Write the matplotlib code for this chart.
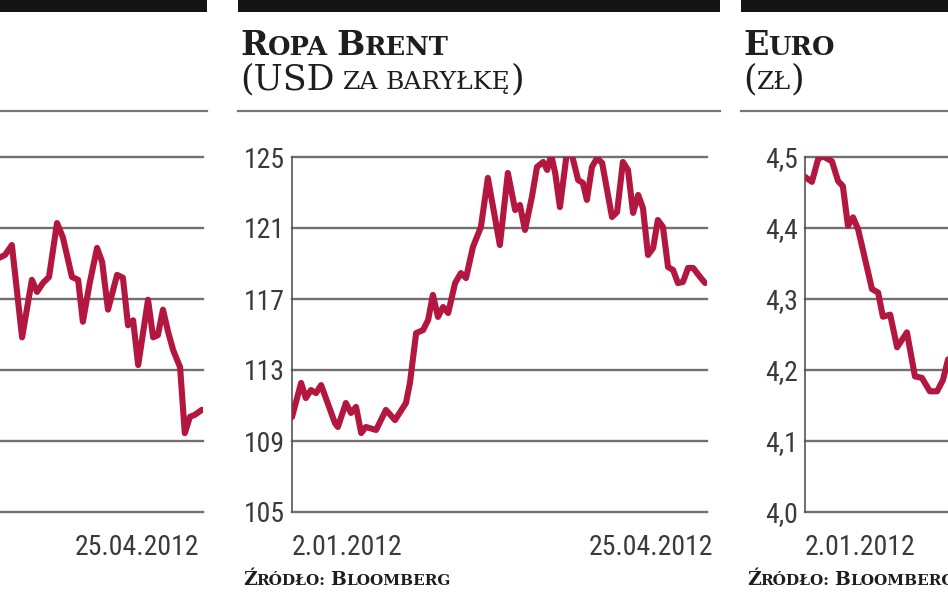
import matplotlib
matplotlib.use('Agg')
import matplotlib.pyplot as plt
from matplotlib import font_manager
from matplotlib.patches import Rectangle
from matplotlib.lines import Line2D

W, H = 948, 593

# dni liczone od 2.01.2012 (25.04.2012 = 114)
lewy_dni = [58.0, 59.6, 61.5, 64.3, 67.0, 68.4, 70.1, 71.7, 73.9, 75.5, 78.0, 79.7, 81.0, 82.9,
            84.9, 86.3, 87.9, 90.4, 92.0, 93.4, 94.8, 96.2, 98.9, 100.3, 101.6, 103.0, 104.4,
            105.8, 107.7, 109.0, 110.4, 111.8, 113.7]
lewy = [3.58, 3.62, 3.76, 2.46, 3.27, 3.10, 3.23, 3.31, 4.07, 3.87, 3.31, 3.27, 2.68, 3.23,
        3.72, 3.52, 2.85, 3.34, 3.30, 2.63, 2.70, 2.07, 2.99, 2.46, 2.49, 2.85, 2.54,
        2.28, 2.04, 1.11, 1.34, 1.37, 1.44]

brent_dni = [0.0, 2.5, 3.8, 5.2, 6.6, 8.0, 9.3, 11.8, 12.6, 14.8, 16.2, 17.6, 19.0, 20.3, 23.1,
             25.8, 28.3, 31.3, 32.4, 34.1, 36.0, 37.4, 38.7, 40.1, 41.5, 42.9, 44.8, 46.4, 47.8,
             49.7, 51.9, 53.8, 57.1, 59.3, 61.3, 62.6, 64.0, 65.9, 67.3, 69.0, 70.1, 71.2, 72.3,
             73.6, 75.5, 76.9, 78.6, 79.9, 81.0, 82.4, 83.8, 85.2, 87.9, 89.3, 90.9, 92.3, 93.7,
             95.1, 96.4, 97.8, 99.2, 100.5, 101.9, 103.3, 104.7, 106.0, 107.4, 108.8, 110.2,
             112.1, 113.5]
brent = [110.35, 112.27, 111.42, 111.87, 111.70, 112.15, 111.42, 110.01, 109.79, 111.14, 110.58,
         110.92, 109.45, 109.79, 109.62, 110.75, 110.18, 111.14, 112.27, 115.08, 115.25, 115.82,
         117.23, 115.99, 116.55, 116.21, 117.90, 118.46, 118.18, 119.93, 121.06, 123.82, 120.04,
         124.10, 122.01, 122.30, 120.89, 122.75, 124.44, 124.72, 124.27, 125.11, 124.10, 122.18,
         125.23, 125.11, 123.70, 123.54, 122.58, 124.44, 124.94, 124.66, 121.62, 121.90, 124.72,
         124.27, 121.85, 122.86, 122.13, 119.48, 119.87, 121.45, 121.06, 118.80, 118.63, 117.90,
         117.96, 118.75, 118.75, 118.24, 117.90]

euro_dni = [0.0, 1.9, 3.6, 4.9, 7.4, 9.1, 10.4, 11.8, 13.2, 14.6, 16.5, 18.4, 20.1, 21.4, 23.4,
            25.3, 28.0, 30.2, 32.1, 34.3, 36.3, 37.9, 39.3]
euro = [4.472, 4.465, 4.497, 4.501, 4.494, 4.466, 4.459, 4.403, 4.415, 4.398, 4.356, 4.314,
        4.309, 4.275, 4.278, 4.232, 4.253, 4.191, 4.189, 4.170, 4.170, 4.186, 4.215]

lewy_ticks = [0, 1, 2, 3, 4, 5]
brent_ticks = [105, 109, 113, 117, 121, 125]
euro_ticks = [4.0, 4.1, 4.2, 4.3, 4.4, 4.5]
euro_labels = ['4,0', '4,1', '4,2', '4,3', '4,4', '4,5']
daty = ['2.01.2012', '25.04.2012']

RED = '#b3173f'
GRID = '#707070'

names = {f.name for f in font_manager.fontManager.ttflist}
narrow = 'DejaVu Sans'
for n in ['Liberation Sans Narrow', 'Roboto Condensed', 'Open Sans Condensed', 'DejaVu Sans Condensed']:
    if n in names:
        narrow = n
        break
serif = 'DejaVu Serif' if 'DejaVu Serif' in names else 'Liberation Serif'

fig = plt.figure(figsize=(W / 100, H / 100), dpi=100)
renderer = fig.canvas.get_renderer()


def fx(x):
    return x / W


def fy(y):
    return 1 - y / H


def sc_text(x, y, parts, weight):
    # kapitaliki skladane z kawalkow
    for txt, size in parts:
        if txt == ' ':
            x += size * 0.32 * 100 / 72
            continue
        t = fig.text(fx(x), fy(y), txt, fontsize=size, fontweight=weight, family=serif,
                     va='baseline', ha='left', color='#1e1e1e')
        x += t.get_window_extent(renderer).width


def panel(x0, ymin, ymax, ticks, labels, dni, vals, first_date, last_date, show_ylab=True):
    ax = fig.add_axes([fx(x0), fy(512), 415 / W, 355 / H])
    ax.set_xlim(0, 114)
    ax.set_ylim(ymin, ymax)
    for v in ticks:
        ax.axhline(v, color=GRID, lw=1.7, zorder=0, clip_on=False)
    ax.plot(dni, vals, color=RED, lw=4.4, solid_joinstyle='round', solid_capstyle='round', zorder=3)
    for s in ['top', 'right', 'bottom']:
        ax.spines[s].set_visible(False)
    ax.spines['left'].set_color('#555555')
    ax.spines['left'].set_linewidth(1.2)
    ax.set_xticks([])
    ax.set_yticks(ticks)
    ax.set_yticklabels(labels)
    ax.tick_params(axis='y', length=0, pad=5, labelsize=20, labelcolor='#3a3a3a',
                   labelleft=show_ylab)
    for lab in ax.get_yticklabels():
        lab.set_family(narrow)
    if first_date:
        ax.annotate(daty[0], xy=(0, 0), xycoords='axes fraction', xytext=(0, -22),
                    textcoords='offset pixels', ha='left', va='top', fontsize=20,
                    color='#3a3a3a', family=narrow)
    if last_date is not None:
        ax.annotate(daty[1], xy=(1, 0), xycoords='axes fraction', xytext=(last_date, -22),
                    textcoords='offset pixels', ha='right', va='top', fontsize=20,
                    color='#3a3a3a', family=narrow)
    ax.patch.set_alpha(0)
    return ax


# belki i linie naglowkow
for a, b in [(0, 207), (238, 720), (741, 948)]:
    fig.add_artist(Rectangle((fx(a), fy(12)), (b - a) / W, 12 / H, color='#141414', lw=0))
    fig.add_artist(Line2D([fx(a), fx(b)], [fy(111), fy(111)], color='#777777', lw=1.6))

panel(-212, 0, 5, lewy_ticks, [str(t) for t in lewy_ticks], lewy_dni, lewy, False, -4, False)
panel(292, 105, 125, brent_ticks, [str(t) for t in brent_ticks], brent_dni, brent, True, 6)
panel(805, 4.0, 4.5, euro_ticks, euro_labels, euro_dni, euro, True, None)

sc_text(240, 55, [('R', 24), ('OPA', 18.5), (' ', 18), ('B', 24), ('RENT', 18.5)], 'bold')
sc_text(240, 89, [('(USD', 25), (' ', 18), ('ZA', 18), (' ', 18), ('BARYŁKĘ', 18), (')', 25)], 'normal')
sc_text(743, 55, [('E', 24), ('URO', 18.5)], 'bold')
sc_text(743, 89, [('(', 25), ('ZŁ', 18), (')', 25)], 'normal')
for x in [243, 747]:
    sc_text(x, 585, [('Ź', 13.5), ('RÓDŁO:', 11), (' ', 11), ('B', 13.5), ('LOOMBERG', 11)], 'bold')

fig.savefig('out.png', dpi=100)
